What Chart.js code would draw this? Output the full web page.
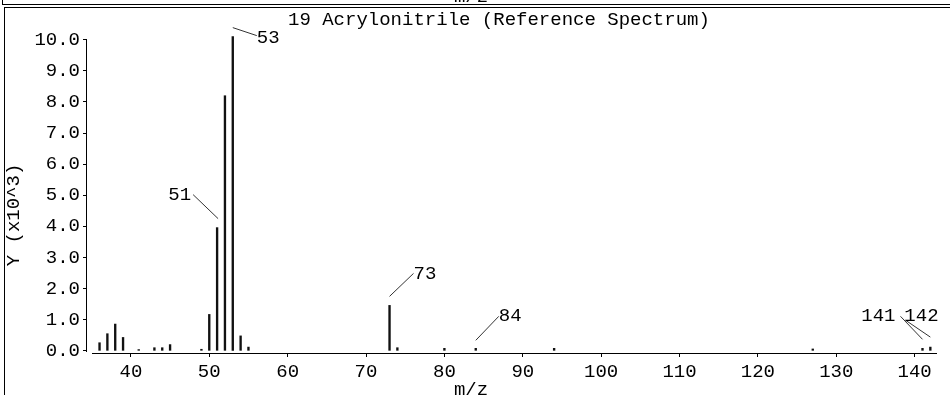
<!DOCTYPE html>
<html>
<head>
<meta charset="utf-8">
<script src="https://cdn.jsdelivr.net/npm/chart.js@4"></script>
<style>
    html, body { margin: 0; padding: 0; background: #fff; }
    #wrap { width: 950px; height: 395px; }
</style>
</head>
<body>
<div id="wrap"><canvas id="spectrum" width="950" height="395"></canvas></div>
<script>
// Spectrum data (intensity in units of 10^3)
const TITLE = '19 Acrylonitrile (Reference Spectrum)';
const X_LABEL = 'm/z';
const Y_LABEL = 'Y (x10^3)';

const mz = [36, 37, 38, 39, 41, 43, 44, 45, 49, 50, 51, 52, 53, 54, 55, 73, 74, 80, 84, 94, 127, 141, 142];
const intensity = [0.26, 0.55, 0.86, 0.43, 0.04, 0.1, 0.1, 0.2, 0.05, 1.17, 3.96, 8.2, 10.1, 0.48, 0.12, 1.46, 0.1, 0.08, 0.08, 0.08, 0.06, 0.08, 0.12];
const labeledPeaks = [51, 53, 73, 84, 141, 142];

const xTicks = [40, 50, 60, 70, 80, 90, 100, 110, 120, 130, 140];
const yTicks = [0, 1, 2, 3, 4, 5, 6, 7, 8, 9, 10];

const FONT_FAMILY = '"Liberation Mono", "DejaVu Sans Mono", monospace';
const FONT = '19px ' + FONT_FAMILY;

// leader line (from bar top) and label placement, relative to bar top
const leaders = {
    51:  { line: [1, -9, -24, -33], text: [-26, -33, 'right'] },
    53:  { line: [0, -9, 24, -1],   text: [24, 1, 'left'] },
    73:  { line: [0, -9, 24, -32],  text: [24, -31, 'left'] },
    84:  { line: [0, -8, 23, -32],  text: [23, -32, 'left'] },
    141: { line: [0, -9, -22, -32], text: [-27, -32, 'right'] },
    142: { line: [0, -10, -25, -27], text: [-26, -31, 'left'] }
};

const spectrumDecor = {
    id: 'spectrumDecor',
    afterDraw(chart) {
        const ctx = chart.ctx;
        const xs = chart.scales.x;
        const ys = chart.scales.y;
        const area = chart.chartArea;
        ctx.save();
        ctx.fillStyle = '#000';

        // panel frame (bottom of the previous panel + this one)
        ctx.fillRect(2, 0, 1, 5);
        ctx.fillRect(2, 4, 948, 1);
        ctx.fillRect(4, 7, 946, 1);
        ctx.fillRect(4, 7, 1, 388);

        ctx.font = FONT;
        ctx.textAlign = 'center';
        ctx.textBaseline = 'alphabetic';
        ctx.fillText(X_LABEL, 471, 2);

        // title
        ctx.textAlign = 'left';
        ctx.textBaseline = 'middle';
        ctx.fillText(TITLE, 288, 20);

        // axis lines
        const y0 = Math.round(ys.getPixelForValue(0));
        const y10 = Math.round(ys.getPixelForValue(10));
        ctx.fillRect(Math.round(area.left) - 1, y10, 1, y0 - y10 + 1);
        const xStart = Math.round(xs.getPixelForValue(35));
        ctx.fillRect(xStart, Math.round(area.bottom), Math.round(area.right) - xStart, 1);

        // axis titles
        ctx.textAlign = 'center';
        ctx.textBaseline = 'middle';
        ctx.fillText(X_LABEL, 471, 390);
        ctx.save();
        ctx.translate(14, 215);
        ctx.rotate(-Math.PI / 2);
        ctx.fillText(Y_LABEL, 0, 0);
        ctx.restore();

        // peak labels
        ctx.strokeStyle = '#333';
        ctx.lineWidth = 1;
        labeledPeaks.forEach(function(m) {
            const i = mz.indexOf(m);
            const bx = xs.getPixelForValue(m);
            const top = ys.getPixelForValue(intensity[i]);
            const l = leaders[m];
            ctx.beginPath();
            ctx.moveTo(bx + l.line[0], top + l.line[1]);
            ctx.lineTo(bx + l.line[2], top + l.line[3]);
            ctx.stroke();
            ctx.textAlign = l.text[2];
            ctx.fillText(String(m), bx + l.text[0], top + l.text[1]);
        });
        ctx.restore();
    }
};

new Chart(document.getElementById('spectrum'), {
    type: 'bar',
    data: {
        datasets: [{
            data: mz.map((m, i) => ({ x: m, y: intensity[i] })),
            backgroundColor: '#111',
            borderWidth: 0,
            barThickness: 1.7,
            grouped: false
        }]
    },
    options: {
        responsive: false,
        animation: false,
        devicePixelRatio: 1,
        layout: { padding: { left: 0, right: 13, top: 36, bottom: 0 } },
        plugins: {
            legend: { display: false },
            title: { display: false },
            tooltip: { enabled: false }
        },
        scales: {
            x: {
                type: 'linear',
                offset: false,
                min: 34.4,
                max: 142.85,
                afterFit(scale) { scale.height = 42; },
                afterBuildTicks(scale) { scale.ticks = xTicks.map(v => ({ value: v })); },
                border: { display: false },
                grid: { drawOnChartArea: false, drawTicks: true, tickLength: 4, tickColor: '#000', offset: false },
                ticks: { font: { family: FONT_FAMILY, size: 19 }, color: '#000', padding: 4, maxRotation: 0, autoSkip: false }
            },
            y: {
                min: -0.07,
                max: 10.12,
                afterFit(scale) { scale.width = 87; },
                afterBuildTicks(scale) { scale.ticks = yTicks.map(v => ({ value: v })); },
                border: { display: false },
                grid: { drawOnChartArea: false, drawTicks: true, tickLength: 4, tickColor: '#000' },
                ticks: {
                    font: { family: FONT_FAMILY, size: 19 },
                    color: '#000',
                    padding: 3,
                    callback: v => v.toFixed(1)
                }
            }
        }
    },
    plugins: [spectrumDecor]
});
</script>
</body>
</html>
